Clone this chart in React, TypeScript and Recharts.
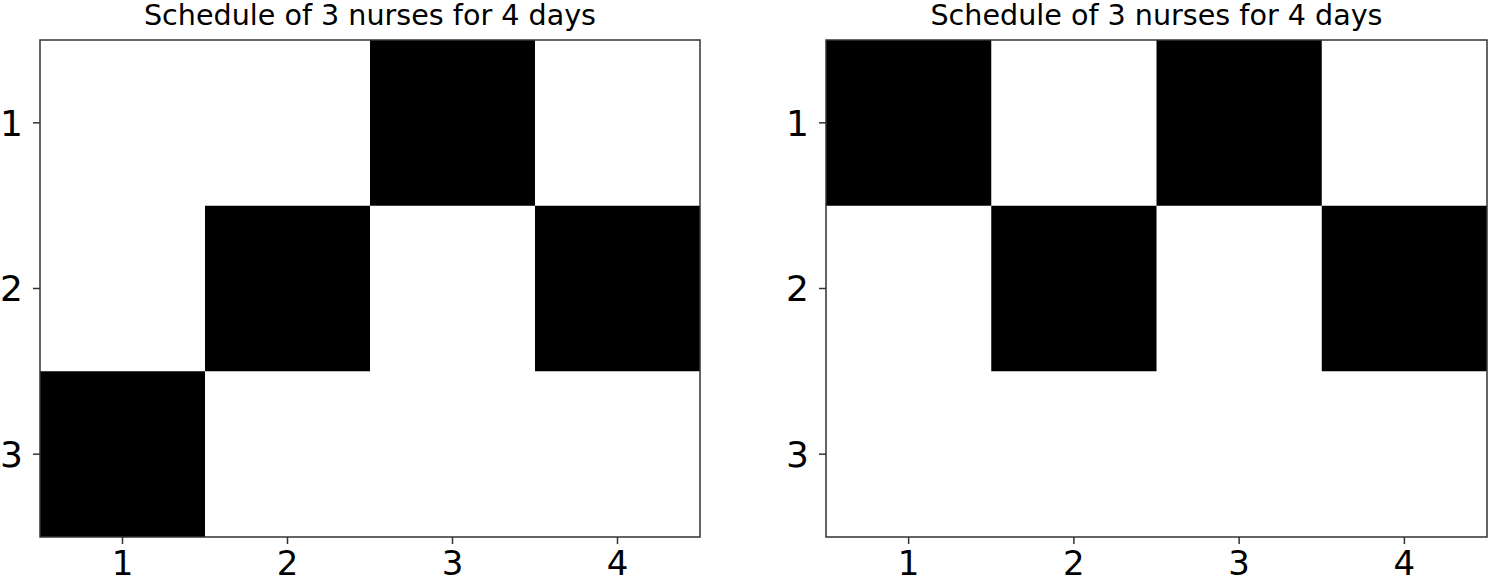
import React from 'react';
import {
  ScatterChart,
  Scatter,
  XAxis,
  YAxis,
  ReferenceArea
} from 'recharts';

// days on x, nurses on y
const days = [1, 2, 3, 4];
const nurses = [1, 2, 3];
const title = 'Schedule of 3 nurses for 4 days';

// 1 = working, one row per nurse
const scheduleLeft = [
  [0, 0, 1, 0],
  [0, 1, 0, 1],
  [1, 0, 0, 0],
];
const scheduleRight = [
  [1, 0, 1, 0],
  [0, 1, 0, 1],
  [0, 0, 0, 0],
];

const FONT = '"DejaVu Sans", sans-serif';
const xTickStyle = { fill: '#000', fontSize: 34, fontFamily: FONT };
const yTickStyle = { fill: '#000', fontSize: 36, fontFamily: FONT };

type Props = {
  schedule: number[][];
  left: number;
  width: number;
  marginRight: number;
};

const Panel = ({ schedule, left, width, marginRight }: Props) => {
  const cells = nurses.flatMap((n, r) => days.map((d, c) => ({ day: d, nurse: n, on: schedule[r][c] })));
  const plotWidth = width - 40 - marginRight;
  return (
    <div style={{ position: 'absolute', left, top: 0, width, height: 583 }}>
      <div
        style={{
          position: 'absolute',
          left: 40,
          top: 0,
          width: plotWidth,
          textAlign: 'center',
          fontFamily: FONT,
          fontSize: 28.6,
          lineHeight: '30px',
          color: '#000',
        }}
      >
        {title}
      </div>
      <ScatterChart width={width} height={583} margin={{ top: 40, right: marginRight, left: 0, bottom: 0 }}>
        <XAxis
          type="number"
          dataKey="day"
          domain={[0.5, 4.5]}
          ticks={days}
          allowDataOverflow
          height={46}
          tickSize={7}
          tickMargin={7}
          tick={xTickStyle}
          axisLine={false}
          tickLine={{ stroke: '#333', strokeWidth: 1.5 }}
        />
        <YAxis
          type="number"
          dataKey="nurse"
          domain={[0.5, 3.5]}
          ticks={nurses}
          reversed
          allowDataOverflow
          width={40}
          tickSize={7}
          tickMargin={10}
          tick={yTickStyle}
          axisLine={false}
          tickLine={{ stroke: '#333', strokeWidth: 1.5 }}
        />
        {cells
          .filter((c) => c.on === 1)
          .map((c) => (
            <ReferenceArea
              key={`${c.day}-${c.nurse}`}
              x1={c.day - 0.5}
              x2={c.day + 0.5}
              y1={c.nurse - 0.5}
              y2={c.nurse + 0.5}
              fill="#000"
              fillOpacity={1}
              stroke="none"
            />
          ))}
        <ReferenceArea
          x1={0.5}
          x2={4.5}
          y1={0.5}
          y2={3.5}
          fill="none"
          stroke="#333"
          strokeWidth={1.5}
        />
        <Scatter data={cells} isAnimationActive={false} shape={() => <g />} />
      </ScatterChart>
    </div>
  );
};

const App = () => {
  return (
    <div style={{ position: 'absolute', left: 0, top: 0, width: 1490, height: 583, background: '#fff' }}>
      <Panel schedule={scheduleLeft} left={0} width={710} marginRight={10} />
      <Panel schedule={scheduleRight} left={786} width={704} marginRight={3} />
    </div>
  );
};

export default App;
